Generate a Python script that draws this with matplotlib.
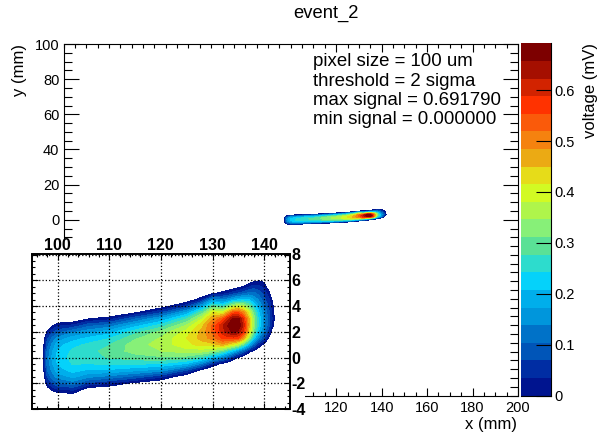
import numpy as np
import matplotlib
matplotlib.use('Agg')
import matplotlib.pyplot as plt
from matplotlib.colors import ListedColormap, BoundaryNorm
from matplotlib.ticker import MultipleLocator

plt.rcParams['font.family'] = ['Liberation Sans', 'DejaVu Sans']
plt.rcParams['axes.unicode_minus'] = False

W, H = 616, 436

# voltage, one list per x column, y = -3.5 ... 6.5 mm
y_mm = [-3.5, -3, -2.5, -2, -1.5, -1, -.5, 0, .5, 1, 1.5, 2, 2.5, 3, 3.5, 4, 4.5, 5, 5.5, 6, 6.5]
x_mm = [97, 98, 99, 100, 103, 106, 110, 115, 120, 125, 128, 130, 132, 133, 134, 135, 136, 137, 138, 139, 140, 141, 142]
voltage_cols = [
    [-.1, -.1, -.1, -.1, -.07, -.05, -.05, -.05, -.05, -.05, -.07, -.1, -.1, -.1, -.1, -.1, -.1, -.1, -.1, -.1, -.1],
    [-.1, -.1, -.03, .03, .07, .10, .115, .12, .11, .09, .06, .01, -.05, -.1, -.1, -.1, -.1, -.1, -.1, -.1, -.1],
    [-.1, -.05, .01, .07, .12, .15, .17, .18, .17, .15, .11, .06, -.01, -.07, -.1, -.1, -.1, -.1, -.1, -.1, -.1],
    [-.1, -.04, .03, .10, .15, .19, .21, .22, .21, .19, .15, .09, .025, -.05, -.1, -.1, -.1, -.1, -.1, -.1, -.1],
    [-.1, -.03, .04, .12, .18, .22, .245, .255, .25, .23, .19, .13, .04, -.04, -.1, -.1, -.1, -.1, -.1, -.1, -.1],
    [-.1, -.09, -.03, .06, .145, .20, .24, .26, .265, .25, .215, .16, .09, 0, -.06, -.12, -.1, -.1, -.1, -.1, -.1],
    [-.1, -.11, -.045, .035, .125, .20, .25, .28, .29, .275, .24, .19, .115, .02, -.05, -.12, -.1, -.1, -.1, -.1, -.1],
    [-.1, -.1, -.08, -.013, .09, .18, .245, .295, .325, .33, .305, .26, .19, .10, -.007, -.07, -.14, -.1, -.1, -.1, -.1],
    [-.1, -.1, -.11, -.045, .04, .155, .24, .305, .345, .36, .35, .32, .255, .175, .065, -.03, -.1, -.1, -.1, -.1, -.1],
    [-.1, -.1, -.1, -.1, -.04, .065, .20, .295, .365, .405, .415, .395, .35, .275, .18, .055, -.04, -.1, -.1, -.1, -.1],
    [-.1, -.1, -.1, -.1, -.08, -.02, .12, .26, .36, .43, .465, .465, .44, .38, .295, .175, .03, -.05, -.11, -.1, -.1],
    [-.1, -.1, -.1, -.1, -.11, -.05, .035, .195, .335, .435, .50, .525, .525, .48, .41, .29, .15, -.013, -.08, -.1, -.1],
    [-.1, -.1, -.1, -.1, -.1, -.085, -.02, .13, .29, .47, .56, .61, .62, .54, .40, .26, .13, .015, -.05, -.1, -.1],
    [-.1, -.1, -.1, -.1, -.1, -.1, -.04, .09, .24, .43, .57, .64, .66, .61, .47, .30, .15, .03, -.04, -.1, -.1],
    [-.1, -.1, -.1, -.1, -.1, -.1, -.06, .03, .20, .40, .57, .67, .69, .67, .54, .36, .18, .05, -.03, -.09, -.1],
    [-.1, -.1, -.1, -.1, -.1, -.1, -.08, -.005, .14, .36, .55, .65, .69, .67, .55, .38, .20, .07, -.015, -.08, -.1],
    [-.1, -.1, -.1, -.1, -.1, -.1, -.1, -.03, .09, .29, .47, .58, .61, .58, .49, .36, .21, .09, .005, -.07, -.1],
    [-.1, -.1, -.1, -.1, -.1, -.1, -.1, -.06, .02, .20, .35, .44, .47, .46, .40, .31, .21, .11, .03, -.04, -.1],
    [-.1, -.1, -.1, -.1, -.1, -.1, -.1, -.09, -.01, .10, .22, .30, .33, .33, .30, .24, .17, .11, .05, -.015, -.1],
    [-.1, -.1, -.1, -.1, -.1, -.1, -.1, -.1, -.04, .03, .13, .20, .23, .23, .21, .17, .13, .09, .04, -.004, -.1],
    [-.1, -.1, -.1, -.1, -.1, -.1, -.1, -.1, -.1, -.015, .07, .12, .15, .15, .14, .11, .08, .055, .025, -.012, -.1],
    [-.1, -.1, -.1, -.1, -.1, -.1, -.1, -.1, -.1, -.1, -.015, .035, .07, .08, .07, .055, .035, .007, -.04, -.1, -.1],
    [-.1, -.1, -.1, -.1, -.1, -.1, -.1, -.1, -.1, -.1, -.1, -.08, -.02, -.005, -.01, -.02, -.04, -.08, -.1, -.1, -.1],
]
max_signal = 0.691790
n_levels = 20
band_colors = ['#00148f', '#002da3', '#0055b8', '#0072c8', '#0096dc', '#00aeeb', '#05d2fa', '#2ddccd',
               '#5ae196', '#87f078', '#aff54b', '#d2fa23', '#e6dc19', '#ebaa14', '#f5820f', '#fa5a0a',
               '#ff3200', '#d22300', '#a50f00', '#7d0000']
main_x_ticks = [120, 140, 160, 180, 200]
main_y_ticks = [0, 20, 40, 60, 80, 100]
scale_ticks = [0, .1, .2, .3, .4, .5, .6]
scale_labels = ['0', '0.1', '0.2', '0.3', '0.4', '0.5', '0.6']
info_lines = ['pixel size = 100 um', 'threshold = 2 sigma', 'max signal = 0.691790', 'min signal = 0.000000']


def box(left, top, right, bottom):
    return [left / W, 1 - bottom / H, (right - left) / W, (bottom - top) / H]


z = np.array(voltage_cols).T
levels = np.linspace(0, max_signal, n_levels + 1)
cmap = ListedColormap(band_colors)
norm = BoundaryNorm(levels, n_levels)

fig = plt.figure(figsize=(W / 100, H / 100), dpi=100)

# main pad, the lower left of it sits under the zoomed view
ax = fig.add_axes(box(63.5, 44, 518, 395.5))
ax.contourf(x_mm, y_mm, z, levels=levels, cmap=cmap, norm=norm)
ax.set_xlim(0, 200)
ax.set_ylim(-100, 100)
ax.set_xticks(main_x_ticks)
ax.set_yticks(main_y_ticks)
ax.xaxis.set_minor_locator(MultipleLocator(5))
ax.yaxis.set_minor_locator(MultipleLocator(5))
ax.tick_params(which='major', axis='x', direction='in', top=True, length=6, width=.8, labelsize=10.5, pad=4)
ax.tick_params(which='minor', axis='x', direction='in', top=True, length=3, width=.8)
ax.tick_params(which='major', axis='y', direction='in', right=True, length=11, width=.8, labelsize=10.5, pad=3)
ax.tick_params(which='minor', axis='y', direction='in', right=True, length=5.5, width=.8)
fig.text(326 / W, 1 - 13 / H, 'event_2', ha='center', va='center', fontsize=13.2)
fig.text(517 / W, 1 - 424 / H, 'x (mm)', ha='right', va='center', fontsize=12)
fig.text(20 / W, 1 - 44 / H, 'y (mm)', rotation=90, ha='center', va='top', fontsize=12)
fig.text(591 / W, 1 - 43 / H, 'voltage (mV)', rotation=90, ha='center', va='top', fontsize=12)
for i, line in enumerate(info_lines):
    fig.text(313 / W, 1 - (62 + i * 19.3) / H, line, ha='left', va='center', fontsize=13.4)

# colour scale
cax = fig.add_axes(box(521, 43.5, 550.5, 395.5))
cax.pcolormesh([0, 1], levels, (levels[:-1] + levels[1:]).reshape(-1, 1) / 2, cmap=cmap, norm=norm)
cax.set_xticks([])
cax.set_yticks(scale_ticks, labels=scale_labels)
cax.yaxis.tick_right()
cax.tick_params(axis='y', direction='in', length=11, width=.8, labelsize=10.5, pad=3)
cax.spines['left'].set_visible(False)
cax.spines['top'].set_visible(False)

# white pad under the zoomed view, hides the corner of the main frame
pad = fig.add_axes(box(0, 240, 305, 436))
pad.set_facecolor('white')
pad.set_xticks([])
pad.set_yticks([])
for s in pad.spines.values():
    s.set_visible(False)

# zoomed view
ins = fig.add_axes(box(31.7, 254.5, 290, 409))
ins.contourf(x_mm, y_mm, z, levels=levels, cmap=cmap, norm=norm)
ins.set_xlim(95, 145)
ins.set_ylim(-4, 8)
ins.xaxis.set_major_locator(MultipleLocator(10))
ins.xaxis.set_minor_locator(MultipleLocator(2))
ins.yaxis.set_major_locator(MultipleLocator(2))
ins.yaxis.set_minor_locator(MultipleLocator(0.5))
ins.grid(True, which='major', color='black', linestyle=':', linewidth=.9)
ins.set_axisbelow(False)
ins.tick_params(which='major', direction='in', top=True, bottom=True, left=True, right=True, length=4, width=.8,
                labeltop=True, labelbottom=False, labelleft=False, labelright=True, labelsize=11.5, pad=1)
ins.tick_params(which='minor', direction='in', top=True, bottom=True, left=True, right=True, length=2, width=.8)
for lab in ins.get_xticklabels() + ins.get_yticklabels():
    lab.set_fontweight('bold')
for s in ins.spines.values():
    s.set_linewidth(1.4)

fig.savefig('out.png', dpi=100)
